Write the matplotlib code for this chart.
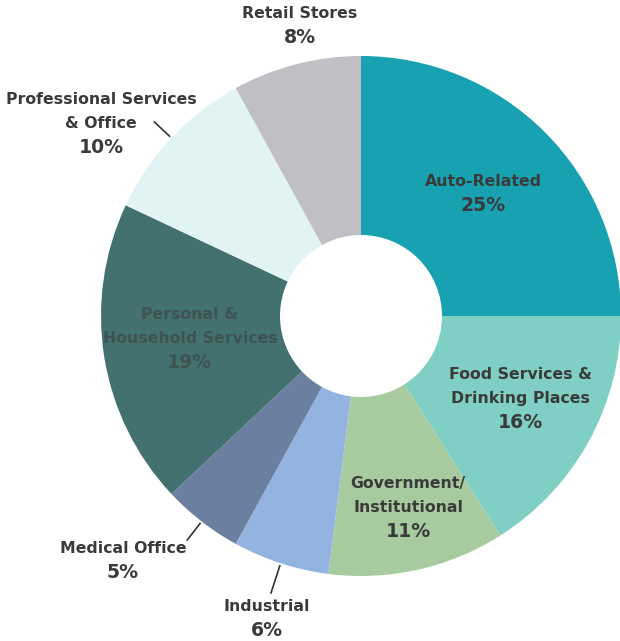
import numpy as np
import matplotlib
matplotlib.use("Agg")
import matplotlib.pyplot as plt

# land use shares, clockwise from 12 o'clock
categories = ["Auto-Related", "Food Services &\nDrinking Places", "Government/\nInstitutional",
              "Industrial", "Medical Office", "Personal &\nHousehold Services",
              "Professional Services\n& Office", "Retail Stores"]
shares = [25, 16, 11, 6, 5, 19, 10, 8]

colors = ["#18a1b1", "#7fcfc4", "#a7cb9e", "#93b3e0", "#6b7fa0", "#437170", "#e1f3f2", "#c0bfc3"]

# label layout: radius (1 = outer edge), angle nudge in degrees, leader line or not
label_r = [0.666, 0.688, 0.76, 1.22, 1.313, 0.664, 1.245, 1.14]
label_nudge = [0, 1.5, 1.2, 0.7, -6.4, -1.4, 6.6, -2.5]
leader = [False, False, False, True, True, False, True, False]

text_col = "#3a3a3a"
step = 24 / 260

fig = plt.figure(figsize=(6.2, 6.41), dpi=100)
ax = fig.add_axes([101 / 620, 65 / 641, 520 / 620, 520 / 641])

wedges, _ = ax.pie(shares, colors=colors, startangle=90, counterclock=False,
                   radius=1, wedgeprops=dict(width=1 - 81 / 260, linewidth=0))
ax.set_xlim(-1, 1)
ax.set_ylim(-1, 1)
ax.set_aspect("equal")
ax.axis("off")

for w, name, val, r, nudge, ld in zip(wedges, categories, shares, label_r, label_nudge, leader):
    mid = np.deg2rad((w.theta1 + w.theta2) / 2)
    if ld:
        r0, r1 = 1.01, 1.09
        if name == "Industrial":
            r1 = 1.12
        ax.plot([r0 * np.cos(mid), r1 * np.cos(mid)], [r0 * np.sin(mid), r1 * np.sin(mid)],
                color="#333333", lw=1.2, clip_on=False)
    a = mid + np.deg2rad(nudge)
    cx, cy = r * np.cos(a), r * np.sin(a)
    lines = name.split("\n") + [f"{val}%"]
    n = len(lines)
    col = "#3d5453" if name.startswith("Personal") else text_col
    for i, line in enumerate(lines):
        y = cy + ((n - 1) / 2 - i) * step
        fs = 13.6 if i == n - 1 else 11.3
        ax.text(cx, y, line, ha="center", va="center", fontsize=fs, fontweight="bold",
                color=col, clip_on=False)

fig.savefig("out.png", dpi=100)
